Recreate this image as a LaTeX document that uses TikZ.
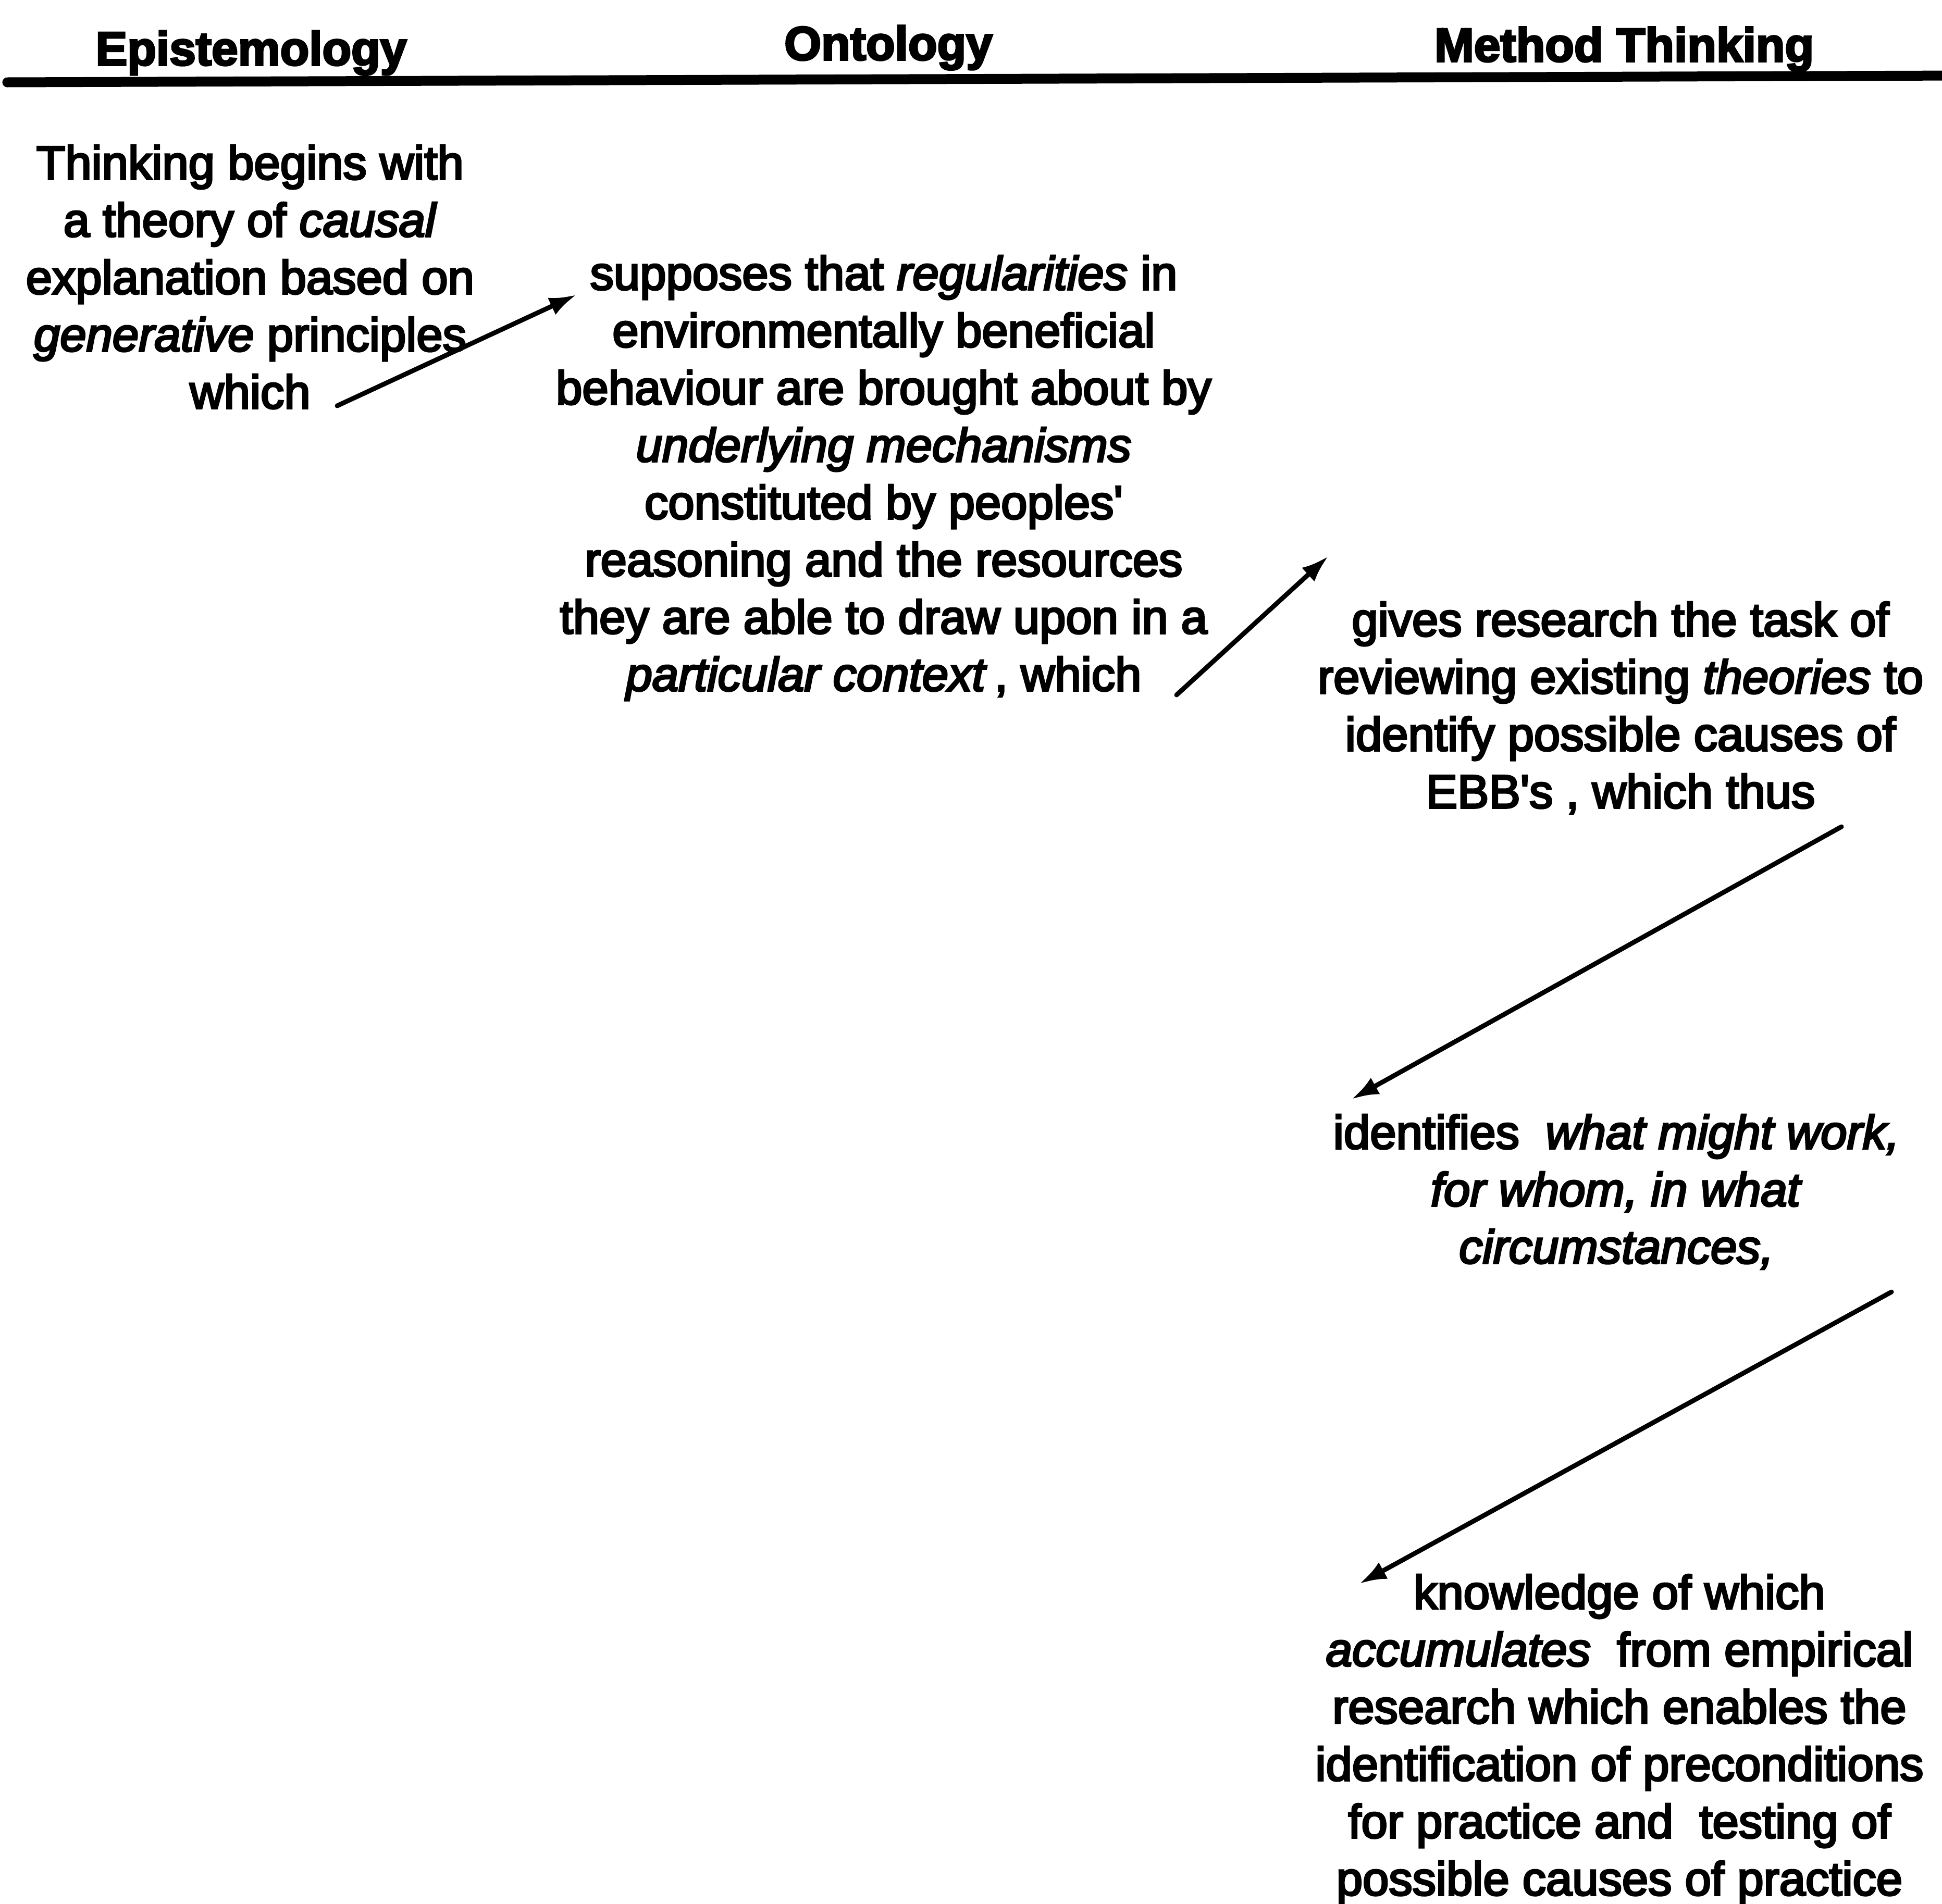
\documentclass[tikz,border=0pt]{standalone}
\usepackage{fontspec}
\setmainfont{Liberation Sans}[Ligatures=TeXOff, FakeBold=4]
\usetikzlibrary{arrows.meta}
\tikzset{
  body/.style={font=\fontsize{25.75}{31.3}\selectfont, align=center, inner sep=0pt, anchor=base},
  head/.style={font=\fontsize{25.9}{31}\selectfont\bfseries, inner sep=0pt, anchor=base},
  conn/.style={line width=0.09cm, line cap=round, -{Latex[length=0.52cm,width=0.36cm]}},
  rulestyle/.style={line width=0.19cm, line cap=round}
}
\begin{document}
\begin{tikzpicture}[x=1cm,y=1cm]
\useasboundingbox (0,0) rectangle (37.27,-36.54);
% headers
\node[head] (h1) at (4.82,-1.25) {Epistemology};
\node[head] (h2) at (17.05,-1.15) {Ontology};
\node[head] (h3) at (31.17,-1.18) {Method Thinking};
\coordinate (rl) at (0.14,-1.58);
\coordinate (rr) at (37.6,-1.45);
\draw[rulestyle] (rl) -- (rr);
% text blocks (anchor base = baseline of last line)
\node[body] (e1) at (4.80,-7.84) {Thinking begins with\\
a theory of \textit{causal}\\
explanation based on\\
\textit{generative} principles\\
which};
\node[body] (o1) at (16.96,-13.26) {supposes that \textit{regularities} in\\
environmentally beneficial\\
behaviour are brought about by\\
\textit{underlying mechanisms}\\
constituted by peoples'\\
reasoning and the resources\\
they are able to draw upon in a\\
\textit{particular context}\,, which};
\node[body] (m1) at (31.10,-15.51) {gives research the task of\\
reviewing existing \textit{theories} to\\
identify possible causes of\\
EBB's , which thus};
\node[body] (m2) at (31.02,-24.25) {identifies~~\textit{what might work,}\\
\textit{for whom, in what}\\
\textit{circumstances,}};
\node[body] (m3) at (31.08,-36.38) {knowledge of which\\
\textit{accumulates}~~from empirical\\
research which enables the\\
identification of preconditions\\
for practice and~~testing of\\
possible causes of practice};
% connectors
\coordinate (a1s) at (6.47,-7.79);
\coordinate (a1e) at (11.06,-5.66);
\coordinate (a2s) at (22.58,-13.34);
\coordinate (a2e) at (25.49,-10.68);
\coordinate (a3s) at (35.34,-15.87);
\coordinate (a3e) at (25.94,-21.10);
\coordinate (a4s) at (36.30,-24.80);
\coordinate (a4e) at (26.09,-30.40);
\draw[conn] (a1s) -- (a1e);
\draw[conn] (a2s) -- (a2e);
\draw[conn] (a3s) -- (a3e);
\draw[conn] (a4s) -- (a4e);
\end{tikzpicture}
\end{document}
